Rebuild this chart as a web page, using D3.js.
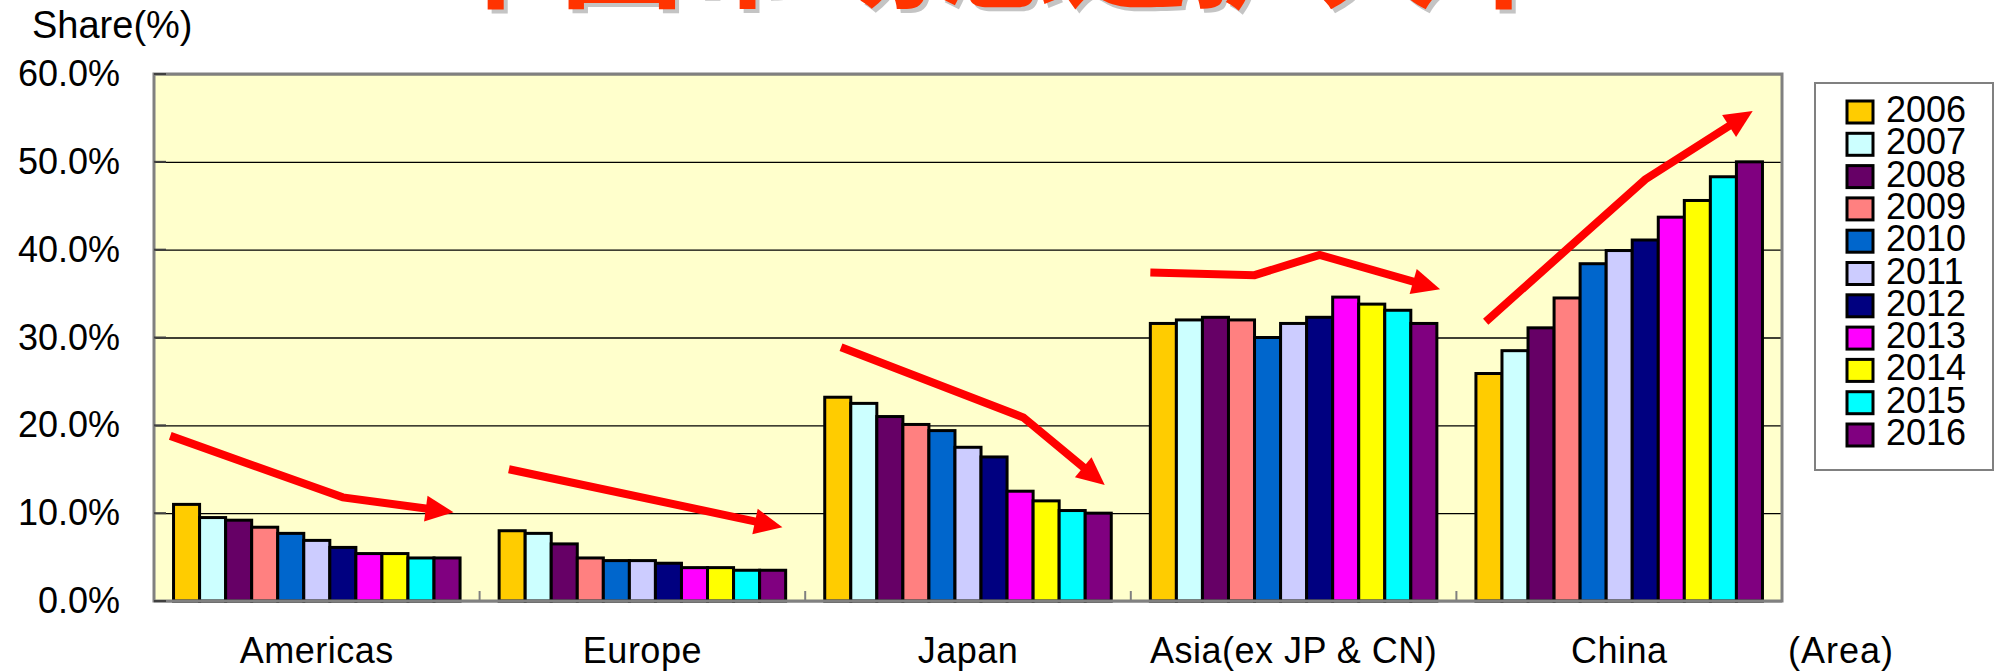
<!DOCTYPE html>
<html>
<head>
<meta charset="utf-8">
<script src="https://cdn.jsdelivr.net/npm/d3@7"></script>
<style>
  body { margin: 0; background: #fff; }
  svg text { font-family: "Liberation Sans", Arial, sans-serif; }
</style>
</head>
<body>
<div id="chart"></div>
<script>
// data
var areas = ["Americas", "Europe", "Japan", "Asia(ex JP & CN)", "China"];
var years = ["2006", "2007", "2008", "2009", "2010", "2011", "2012", "2013", "2014", "2015", "2016"];
var americas = [11.0, 9.5, 9.2, 8.4, 7.7, 6.9, 6.1, 5.4, 5.4, 4.9, 4.9];
var europe   = [8.0, 7.7, 6.5, 4.9, 4.6, 4.6, 4.3, 3.8, 3.8, 3.5, 3.5];
var japan    = [23.2, 22.5, 21.0, 20.1, 19.4, 17.5, 16.4, 12.5, 11.4, 10.3, 10.0];
var asia     = [31.6, 32.0, 32.3, 32.0, 30.0, 31.6, 32.3, 34.6, 33.8, 33.1, 31.6];
var china    = [25.9, 28.5, 31.1, 34.5, 38.4, 39.9, 41.1, 43.7, 45.6, 48.3, 50.0];
var yTicks = [0, 10, 20, 30, 40, 50, 60];
var yearColors = ["#FFCC00", "#CCFFFF", "#660066", "#FF8080", "#0066CC", "#CCCCFF",
                  "#000080", "#FF00FF", "#FFFF00", "#00FFFF", "#800080"];
// trend arrows: [area position (0..5), share %]
var trendArrows = [
  [[0.05, 18.8], [0.58, 11.8], [0.92, 10.1]],
  [[1.09, 15.0], [1.93, 8.4]],
  [[2.11, 28.9], [2.67, 20.9], [2.92, 13.2]],
  [[3.06, 37.4], [3.38, 37.1], [3.58, 39.4], [3.95, 35.5]],
  [[4.09, 31.8], [4.58, 48.0], [4.91, 55.8]]
];
var title = "中国市场急速扩大中";

var shares = [americas, europe, japan, asia, china];

var svgWidth = 1995, svgHeight = 672;
var margin = { top: 74, left: 154, right: 213, bottom: 71 };
var width = svgWidth - margin.left - margin.right;
var height = svgHeight - margin.top - margin.bottom;

var svg = d3.select("#chart").append("svg")
    .attr("width", svgWidth)
    .attr("height", svgHeight);

// title (mostly cut off at the top, like the picture)
var titleY = -2;
svg.append("text")
    .attr("x", 1000 + 4).attr("y", titleY + 4)
    .attr("text-anchor", "middle")
    .attr("font-weight", "bold")
    .attr("font-size", 126)
    .attr("fill", "#C4C4C4")
    .style("font-family", "'Noto Sans CJK SC'")
    .text(title);
svg.append("text")
    .attr("x", 1000).attr("y", titleY)
    .attr("text-anchor", "middle")
    .attr("font-weight", "bold")
    .attr("font-size", 126)
    .attr("fill", "#FF3300")
    .style("font-family", "'Noto Sans CJK SC'")
    .text(title);

var chartGroup = svg.append("g")
    .attr("transform", `translate(${margin.left}, ${margin.top})`);

// scales
var x0 = d3.scaleBand().domain(areas).range([0, width]).padding(0);
var x1 = d3.scaleBand().domain(years).range([0, x0.bandwidth()])
    .paddingInner(0).paddingOuter(0.75);
var xPos = d3.scaleLinear().domain([0, areas.length]).range([0, width]);
var y = d3.scaleLinear().domain([0, 60]).range([height, 0]);

// plot background
chartGroup.append("rect")
    .attr("width", width).attr("height", height)
    .attr("fill", "#FFFFCC");

// gridlines + y labels
var yAxis = d3.axisLeft(y)
    .tickValues(yTicks)
    .tickSize(-width)
    .tickPadding(34)
    .tickFormat(d => d.toFixed(1) + "%");
var yG = chartGroup.append("g").call(yAxis);
yG.select(".domain").remove();
yG.selectAll("line").attr("stroke", "#000").attr("stroke-width", 1.3);
yG.selectAll("text")
    .attr("font-size", 36)
    .attr("fill", "#000")
    .style("font-family", "'Liberation Sans', Arial, sans-serif");

// bars
var groups = chartGroup.selectAll(".area")
    .data(areas)
    .enter().append("g")
    .attr("transform", d => `translate(${x0(d)}, 0)`);

groups.selectAll("rect")
    .data((d, i) => shares[i].map((v, j) => ({ year: years[j], value: v, color: yearColors[j] })))
    .enter().append("rect")
    .attr("x", d => x1(d.year))
    .attr("y", d => y(d.value))
    .attr("width", x1.bandwidth())
    .attr("height", d => height - y(d.value))
    .attr("fill", d => d.color)
    .attr("stroke", "#000")
    .attr("stroke-width", 3);

// plot frame
chartGroup.append("rect")
    .attr("width", width).attr("height", height)
    .attr("fill", "none")
    .attr("stroke", "#808080")
    .attr("stroke-width", 3);

// small inward ticks on y axis
chartGroup.selectAll(".ytick")
    .data(yTicks)
    .enter().append("line")
    .attr("x1", 0).attr("x2", 12)
    .attr("y1", d => y(d)).attr("y2", d => y(d))
    .attr("stroke", "#404040").attr("stroke-width", 2);

// category ticks on x axis
chartGroup.selectAll(".xtick")
    .data(d3.range(1, areas.length))
    .enter().append("line")
    .attr("x1", d => xPos(d)).attr("x2", d => xPos(d))
    .attr("y1", height).attr("y2", height - 10)
    .attr("stroke", "#808080").attr("stroke-width", 2);

// x labels
var xAxis = d3.axisBottom(x0).tickSize(0).tickPadding(36);
var xG = chartGroup.append("g")
    .attr("transform", `translate(0, ${height})`)
    .call(xAxis);
xG.select(".domain").remove();
xG.selectAll("text")
    .attr("font-size", 36)
    .attr("fill", "#000")
    .attr("letter-spacing", 0.5)
    .style("font-family", "'Liberation Sans', Arial, sans-serif");

// trend arrows
trendArrows.forEach(function(pts) {
    var n = pts.length;
    var tip = [xPos(pts[n - 1][0]), y(pts[n - 1][1])];
    var prev = [xPos(pts[n - 2][0]), y(pts[n - 2][1])];
    var dx = tip[0] - prev[0], dy = tip[1] - prev[1];
    var len = Math.sqrt(dx * dx + dy * dy);
    var ux = dx / len, uy = dy / len;
    var headLen = 28, headW = 13;
    var bx = tip[0] - ux * headLen, by = tip[1] - uy * headLen;
    var shaft = pts.slice(0, n - 1).map(p => [xPos(p[0]), y(p[1])]);
    shaft.push([bx + ux * 2, by + uy * 2]);
    chartGroup.append("path")
        .attr("d", d3.line()(shaft))
        .attr("fill", "none")
        .attr("stroke", "#FF0000")
        .attr("stroke-width", 8)
        .attr("stroke-linejoin", "miter");
    chartGroup.append("path")
        .attr("d", d3.line()([
            tip,
            [bx - uy * headW, by + ux * headW],
            [bx + uy * headW, by - ux * headW]
        ]) + "Z")
        .attr("fill", "#FF0000");
});

// axis titles
svg.append("text")
    .attr("x", 32).attr("y", 38)
    .attr("font-size", 38)
    .text("Share(%)");
svg.append("text")
    .attr("x", 1788).attr("y", 663)
    .attr("font-size", 36)
    .attr("letter-spacing", 1)
    .text("(Area)");

// legend
var legend = svg.append("g").attr("transform", "translate(1815, 83)");
legend.append("rect")
    .attr("width", 178).attr("height", 387)
    .attr("fill", "#fff")
    .attr("stroke", "#808080")
    .attr("stroke-width", 2);
var items = legend.selectAll(".item")
    .data(years)
    .enter().append("g")
    .attr("transform", (d, i) => `translate(32, ${18 + i * 32.3})`);
items.append("rect")
    .attr("width", 26).attr("height", 22)
    .attr("fill", (d, i) => yearColors[i])
    .attr("stroke", "#000")
    .attr("stroke-width", 3);
items.append("text")
    .attr("x", 39).attr("y", 21)
    .attr("font-size", 36)
    .text(d => d);
</script>
</body>
</html>
